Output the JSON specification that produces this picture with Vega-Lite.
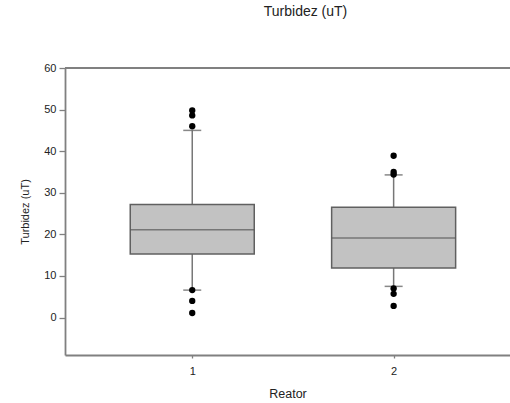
{
  "$schema": "https://vega.github.io/schema/vega-lite/v6.json",
  "autosize": "none",
  "width": 445,
  "height": 287,
  "padding": {"left": 65, "top": 68, "right": 0, "bottom": 48},
  "background": "white",
  "title": {"text": "Turbidez (uT)", "font": "Liberation Sans", "fontSize": 14, "fontWeight": "normal", "color": "#222", "offset": 43, "dx": 18, "anchor": "middle"},
  "config": {
    "view": {"stroke": null},
    "axis": {"labelFont": "Liberation Sans", "titleFont": "Liberation Sans", "labelColor": "#222", "titleColor": "#222", "domainColor": "#808080", "domainWidth": 1.8, "tickColor": "#808080", "tickWidth": 1.3, "grid": false, "titleFontWeight": "normal"}
  },
  "datasets": {
    "boxes": [
      {"reator": 1, "lower": 6.6, "q1": 15.3, "median": 21.1, "q3": 27.2, "upper": 45.0},
      {"reator": 2, "lower": 7.5, "q1": 11.9, "median": 19.1, "q3": 26.5, "upper": 34.3}
    ],
    "outliers": [
      {"reator": 1, "value": 46.0},
      {"reator": 1, "value": 48.6},
      {"reator": 1, "value": 49.8},
      {"reator": 1, "value": 6.6},
      {"reator": 1, "value": 4.0},
      {"reator": 1, "value": 1.1},
      {"reator": 2, "value": 38.9},
      {"reator": 2, "value": 35.0},
      {"reator": 2, "value": 34.4},
      {"reator": 2, "value": 7.0},
      {"reator": 2, "value": 5.7},
      {"reator": 2, "value": 2.8}
    ]
  },
  "layer": [
    {
      "data": {"name": "boxes"},
      "mark": {"type": "rule", "color": "#777", "strokeWidth": 1.5},
      "encoding": {
        "x": {"field": "reator", "type": "quantitative", "scale": {"domain": [0.393, 2.553], "nice": false, "zero": false},
              "axis": {"title": "Reator", "values": [1, 2], "format": "d", "labelFontSize": 11, "titleFontSize": 12.5, "tickSize": 3, "labelPadding": 7, "titlePadding": 11}},
        "y": {"field": "lower", "type": "quantitative", "scale": {"domain": [-9, 60], "nice": false, "zero": false},
              "axis": {"title": "Turbidez (uT)", "values": [0, 10, 20, 30, 40, 50, 60], "labelFontSize": 11, "titleFontSize": 11, "tickSize": 6, "labelPadding": 3, "titlePadding": 13}},
        "y2": {"field": "upper"}
      }
    },
    {
      "data": {"name": "boxes"},
      "mark": {"type": "bar", "size": 124, "fill": "#c2c2c2", "stroke": "#606060", "strokeWidth": 1.5},
      "encoding": {
        "x": {"field": "reator", "type": "quantitative"},
        "y": {"field": "q1", "type": "quantitative"},
        "y2": {"field": "q3"}
      }
    },
    {
      "data": {"name": "boxes"},
      "mark": {"type": "tick", "orient": "horizontal", "size": 124, "thickness": 1.5, "color": "#555"},
      "encoding": {
        "x": {"field": "reator", "type": "quantitative"},
        "y": {"field": "median", "type": "quantitative"}
      }
    },
    {
      "data": {"name": "boxes"},
      "mark": {"type": "tick", "orient": "horizontal", "size": 18, "thickness": 1.5, "color": "#555"},
      "encoding": {
        "x": {"field": "reator", "type": "quantitative"},
        "y": {"field": "lower", "type": "quantitative"}
      }
    },
    {
      "data": {"name": "boxes"},
      "mark": {"type": "tick", "orient": "horizontal", "size": 18, "thickness": 1.5, "color": "#555"},
      "encoding": {
        "x": {"field": "reator", "type": "quantitative"},
        "y": {"field": "upper", "type": "quantitative"}
      }
    },
    {
      "data": {"name": "outliers"},
      "mark": {"type": "point", "filled": true, "color": "#000", "opacity": 1, "size": 40},
      "encoding": {
        "x": {"field": "reator", "type": "quantitative"},
        "y": {"field": "value", "type": "quantitative"}
      }
    },
    {
      "data": {"values": [{}]},
      "mark": {"type": "rule", "color": "#808080", "strokeWidth": 1.8},
      "encoding": {"y": {"datum": 60}}
    }
  ]
}
